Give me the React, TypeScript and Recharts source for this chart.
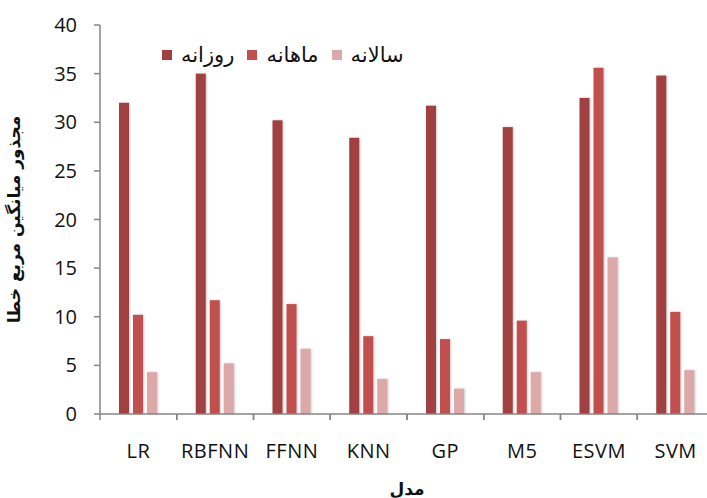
import React from "react";
import { BarChart, Bar, XAxis, YAxis, Legend, Label } from "recharts";

const categories = ["LR", "RBFNN", "FFNN", "KNN", "GP", "M5", "ESVM", "SVM"];
const daily = [32.0, 35.0, 30.2, 28.4, 31.7, 29.5, 32.5, 34.8];
const monthly = [10.2, 11.7, 11.3, 8.0, 7.7, 9.6, 35.6, 10.5];
const yearly = [4.3, 5.2, 6.7, 3.6, 2.6, 4.3, 16.1, 4.5];
const yTicks = [0, 5, 10, 15, 20, 25, 30, 35, 40];

const seriesNames = { daily: "روزانه", monthly: "ماهانه", yearly: "سالانه" };
const colors = { daily: "#a03f3f", monthly: "#c0504d", yearly: "#dca8a8" };

const data = categories.map((name, i) => ({
  name,
  daily: daily[i],
  monthly: monthly[i],
  yearly: yearly[i],
}));

const axisColor = "#868686";
const latin = "'Open Sans', Lato, sans-serif";
const arabic = "'DejaVu Sans', sans-serif";

function LegendBox() {
  const keys = ["daily", "monthly", "yearly"] as const;
  return (
    <div style={{ display: "flex", alignItems: "center", gap: 13 }}>
      {keys.map((k) => (
        <div key={k} style={{ display: "flex", alignItems: "center", gap: 9 }}>
          <span style={{ width: 10, height: 10, background: colors[k], display: "inline-block" }} />
          <span style={{ fontFamily: arabic, fontSize: 21, color: "#111", lineHeight: "24px" }}>
            {seriesNames[k]}
          </span>
        </div>
      ))}
    </div>
  );
}

// category label centred in the band, tick mark on the band's left edge (Excel style)
function CategoryTick(props: any) {
  const { x, y, payload } = props;
  const half = payload?.offset ?? 0;
  const edge = x - half;
  return (
    <g>
      <line x1={edge} x2={edge} y1={y} y2={y + 6} stroke={axisColor} strokeWidth={1.5} />
      <line x1={x + half} x2={x + half} y1={y} y2={y + 6} stroke={axisColor} strokeWidth={1.5} />
      <text
        x={x}
        y={y + 36}
        textAnchor="middle"
        dominantBaseline="central"
        fontFamily={latin}
        fontSize={20}
        letterSpacing={0.5}
        fill="#111"
      >
        {payload.value}
      </text>
    </g>
  );
}

function ShadowBar(props: any) {
  const { x, y, width, height, fill } = props;
  if (!height || height <= 0) return null;
  return <rect x={x} y={y} width={width} height={height} fill={fill} filter="url(#barShadow)" />;
}

export default function App() {
  return (
    <div
      style={{
        position: "absolute",
        left: 0,
        top: 0,
        width: 707,
        height: 498,
        overflow: "hidden",
        background: "#fff",
      }}
    >
      <BarChart
        width={720}
        height={498}
        data={data}
        margin={{ top: 25, right: 6, bottom: 0, left: 0 }}
        barSize={10}
        barGap={4}
      >
        <defs>
          <filter id="barShadow" x="-50%" y="-10%" width="200%" height="120%">
            <feDropShadow dx="1" dy="0" stdDeviation="1.2" floodColor="#888" floodOpacity="0.45" />
          </filter>
        </defs>
        <XAxis
          dataKey="name"
          tickLine={false}
          tickSize={0}
          tickMargin={0}
          height={84}
          stroke={axisColor}
          strokeWidth={1.5}
          tick={<CategoryTick />}
          interval={0}
        >
          <Label
            value="مدل"
            position="insideBottom"
            offset={3}
            style={{ fontFamily: arabic, fontSize: 17, fontWeight: "bold", fill: "#111" }}
          />
        </XAxis>
        <YAxis
          domain={[0, 40]}
          ticks={yTicks}
          width={100}
          tickSize={6}
          tickMargin={17}
          stroke={axisColor}
          strokeWidth={1.5}
          tick={{ fontFamily: latin, fontSize: 20, fill: "#111" }}
        >
          <Label
            value="مجذور میانگین مربع خطا"
            angle={-90}
            position="insideLeft"
            offset={14}
            style={{ fontFamily: arabic, fontSize: 17, fontWeight: "bold", fill: "#111", textAnchor: "middle" }}
          />
        </YAxis>
        <Legend
          layout="horizontal"
          align="center"
          verticalAlign="middle"
          content={() => <LegendBox />}
          wrapperStyle={{ top: 43, left: 162, width: "auto" }}
        />
        <Bar dataKey="daily" fill={colors.daily} shape={ShadowBar} isAnimationActive={false} />
        <Bar dataKey="monthly" fill={colors.monthly} shape={ShadowBar} isAnimationActive={false} />
        <Bar dataKey="yearly" fill={colors.yearly} shape={ShadowBar} isAnimationActive={false} />
      </BarChart>
    </div>
  );
}
